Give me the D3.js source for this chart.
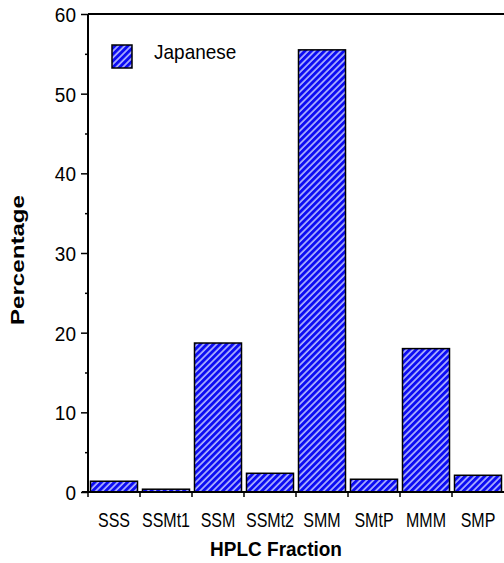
<!DOCTYPE html>
<html><head><meta charset="utf-8">
<script src="https://cdn.jsdelivr.net/npm/d3@7"></script>
<style>body{margin:0;background:#fff}svg{display:block}text{font-family:"Liberation Sans",Arial,sans-serif;fill:#000}</style>
</head><body>
<svg id="c" width="504" height="563"></svg>
<script>
const categories = ["SSS","SSMt1","SSM","SSMt2","SMM","SMtP","MMM","SMP"];
const values = [1.35, 0.35, 18.7, 2.35, 55.5, 1.6, 18.0, 2.1];
const seriesName = "Japanese";
const yTicks = [0,10,20,30,40,50,60];
const yMinorTicks = [5,15,25,35,45,55];

const svg = d3.select("#c");
const L = 88, R = 504, T = 14, B = 492;
const x = d3.scaleBand().domain(categories).range([L, R]).paddingInner(0.096).paddingOuter(0.048);
const y = d3.scaleLinear().domain([0, 60]).range([B, T]);

const defs = svg.append("defs");
const pat = defs.append("pattern").attr("id","hatch").attr("patternUnits","userSpaceOnUse")
  .attr("width",4.6).attr("height",4.6).attr("patternTransform","rotate(45)");
pat.append("rect").attr("width",4.6).attr("height",4.6).attr("fill","#0c0cf2");
pat.append("line").attr("x1",1).attr("x2",1).attr("y1",0).attr("y2",4.6)
  .attr("stroke","#b8bcff").attr("stroke-width",1.6);

// bars
svg.append("g").selectAll("rect").data(categories).join("rect")
  .attr("x", d => x(d)).attr("width", x.bandwidth())
  .attr("y", (d,i) => y(values[i])).attr("height", (d,i) => B - y(values[i]))
  .attr("fill","url(#hatch)").attr("stroke","#000").attr("stroke-width",1.5);

// top frame line
svg.append("line").attr("x1",L).attr("x2",R).attr("y1",T).attr("y2",T).attr("stroke","#000").attr("stroke-width",2);

// y axis
const yAxis = svg.append("g").attr("transform",`translate(${L},0)`)
  .call(d3.axisLeft(y).tickValues(yTicks).tickSize(7).tickPadding(5).tickFormat(d3.format("d")));
yAxis.select(".domain").attr("stroke-width",2).attr("d",`M0,${T}V${B}`);
yAxis.selectAll(".tick line").attr("stroke-width",1.5);
yAxis.selectAll(".tick text").attr("font-size",19).attr("font-family","Liberation Sans, Arial, sans-serif")
  .attr("dy",null).attr("y",0).attr("transform","translate(0,7.5) scale(1,1.1)");
const yMinor = svg.append("g").attr("transform",`translate(${L},0)`)
  .call(d3.axisLeft(y).tickValues(yMinorTicks).tickSize(3).tickFormat(""));
yMinor.select(".domain").remove();
yMinor.selectAll(".tick line").attr("stroke-width",1.5);

// x axis
const step = x.step();
const bounds = categories.map(c => x(c) - step*x.paddingInner()/2);
const xAxis = svg.append("g").attr("transform",`translate(0,${B})`)
  .call(d3.axisBottom(x).tickSize(0).tickFormat(""));
xAxis.select(".domain").attr("stroke-width",2).attr("d",`M82,0H${R}`);
xAxis.selectAll(".tick text").remove();
xAxis.selectAll(".bt").data(bounds).join("line")
  .attr("x1",d=>d).attr("x2",d=>d).attr("y1",0).attr("y2",5).attr("stroke","#000").attr("stroke-width",1.5);
xAxis.selectAll(".cl").data(categories).join("text")
  .attr("text-anchor","middle").attr("font-size",16)
  .attr("transform", d => `translate(${x(d)+x.bandwidth()/2},${527-B}) scale(1,1.27)`).text(d=>d);

// axis titles
svg.append("text").attr("transform","translate(276,556) scale(1,1.1)").attr("text-anchor","middle")
  .attr("font-size",19).attr("font-weight","bold").text("HPLC Fraction");
svg.append("text").attr("transform","translate(24,260) rotate(-90)").attr("text-anchor","middle")
  .attr("font-size",19).attr("font-weight","bold").attr("textLength",130).attr("lengthAdjust","spacingAndGlyphs").text("Percentage");

// legend
svg.append("rect").attr("x",112).attr("y",45).attr("width",20).attr("height",23)
  .attr("fill","url(#hatch)").attr("stroke","#000").attr("stroke-width",1.5);
svg.append("text").attr("transform","translate(154,59) scale(1,1.1)").attr("font-size",19).text(seriesName);
</script>
</body></html>
